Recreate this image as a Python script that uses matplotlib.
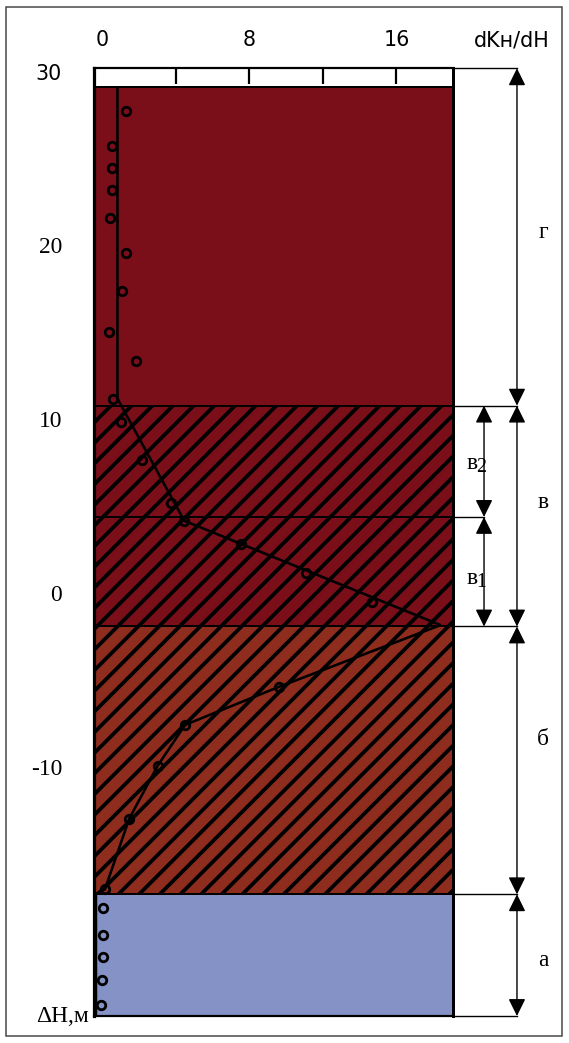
import matplotlib
matplotlib.use("Agg")
import matplotlib.pyplot as plt
from matplotlib.patches import Rectangle, ArrowStyle

# ---------------- data ----------------
layer_names = ["г", "в2", "в1", "б", "а"]
layer_top = [29.2, 10.9, 4.5, -1.8, -17.2]
layer_bottom = [10.9, 4.5, -1.8, -17.2, -24.2]
layer_colors = ["#7A0F1A", "#7A0F1A", "#7A0F1A", "#8E2D1E", "#8592C6"]
layer_hatch = [None, "//", "//", "//", None]

g_x = [1.29, 0.53, 0.53, 0.53, 0.45, 1.29, 1.10, 0.38, 1.83, 0.61]
g_y = [27.86, 25.83, 24.55, 23.30, 21.71, 19.70, 17.49, 15.12, 13.48, 11.27]
v_x = [1.02, 2.16, 3.75, 4.47, 7.54, 11.07, 14.66]
v_y = [9.96, 7.76, 5.28, 4.28, 2.93, 1.28, -0.39]
b_x = [9.64, 4.51, 3.03, 1.48, 0.16]
b_y = [-5.26, -7.46, -9.80, -12.85, -16.91]
a_x = [0.07, 0.07, 0.07, 0.0, -0.05]
a_y = [-18.0, -19.54, -20.79, -22.13, -23.57]

trend_x = [0.84, 0.84, 4.47, 18.4, 9.64, 4.51, 3.03, 1.48, 0.16, -0.33, -0.33]
trend_y = [29.18, 11.3, 4.28, -1.72, -5.26, -7.46, -9.80, -12.85, -16.91, -17.18, -24.2]

x_ticklabels = ["0", "8", "16"]
x_ticks = [0, 8, 16]
ruler_ticks = [4, 8, 12, 16]
y_ticks = [30, 20, 10, 0, -10]
y_ticklabels = ["30", "20", "10", "0", "-10"]

# ---------------- layout ----------------
DPI = 124
W, H = 569, 1043
P = 72.0 / DPI  # points per pixel
plt.rcParams["hatch.linewidth"] = 3.8 * P

fig = plt.figure(figsize=(W / DPI, H / DPI), dpi=DPI)
fig.patch.set_facecolor("white")
AX_L, AX_R, AX_T, AX_B = 93.5, 453.3, 68.3, 1016
ax = fig.add_axes([AX_L / W, 1 - AX_B / H, (AX_R - AX_L) / W, (AX_B - AX_T) / H])
XMIN, XMAX = -0.462, 19.09
YMIN, YMAX = -24.2, 30.3
ax.set_xlim(XMIN, XMAX)
ax.set_ylim(YMIN, YMAX)

SANS = "DejaVu Sans"
SERIF = "Liberation Serif"
sans_size = 20.6 * P
serif_size = 23.5 * P

# layers
for top, bot, col, h in zip(layer_top, layer_bottom, layer_colors, layer_hatch):
    ax.axhspan(bot, top, facecolor=col, edgecolor="black", hatch=h,
               linewidth=2.0 * P, zorder=1)

# trend line and points
ax.plot(trend_x, trend_y, color="black", lw=2.6 * P, zorder=3, solid_joinstyle="miter")
for xs, ys in [(g_x, g_y), (v_x, v_y), (b_x, b_y), (a_x, a_y)]:
    ax.plot(xs, ys, ls="none", marker="o", ms=8.5 * P, mfc="none", mec="black",
            mew=2.8 * P, zorder=4)

# spines
for side, lw in [("left", 3.2), ("right", 3.0), ("top", 2.2), ("bottom", 2.2)]:
    ax.spines[side].set_linewidth(lw * P)
    ax.spines[side].set_zorder(5)

# x axis (top ruler)
ax.xaxis.set_ticks_position("top")
ax.set_xticks(x_ticks)
ax.set_xticklabels(x_ticklabels, fontfamily=SANS, fontsize=sans_size)
ax.tick_params(axis="x", which="major", length=0, pad=18 * P)
ax.vlines(ruler_ticks, YMAX - 16 / 17.39, YMAX, colors="black", lw=2.2 * P, zorder=5)

# y axis labels
ax.set_yticks([])
x_ylab = (62 - AX_L) / (AX_R - AX_L)
for val, txt in zip(y_ticks, y_ticklabels):
    fam = SANS if txt == "30" else SERIF
    size = sans_size if txt == "30" else serif_size
    ax.text(x_ylab, val, txt, transform=ax.get_yaxis_transform(), ha="right",
            va="center", fontfamily=fam, fontsize=size, clip_on=False)

ax.text(-0.71, -24.25, "ΔH,м", ha="right", va="center", fontfamily=SERIF,
        fontsize=serif_size, clip_on=False)
ax.text(22.27, 1 + (AX_T - 40.7) / (AX_B - AX_T), "dKн/dH", transform=ax.get_xaxis_transform(),
        ha="center", va="center", fontfamily=SANS, fontsize=sans_size, clip_on=False)

# right-hand dimension arrows
X_OUT = 22.55
X_IN = 20.76
ext_out = [YMAX, layer_top[1], layer_top[3], layer_top[4], YMIN]
ext_in = [layer_top[2]]
for y in ext_out:
    ax.plot([XMAX, X_OUT], [y, y], color="black", lw=1.4 * P, clip_on=False, zorder=2)
for y in ext_in:
    ax.plot([XMAX, X_IN], [y, y], color="black", lw=1.4 * P, clip_on=False, zorder=2)

style = ArrowStyle("<|-|>", head_length=0.85, head_width=0.42)
def dim_arrow(x, y0, y1):
    ax.annotate("", xy=(x, y0), xytext=(x, y1),
                arrowprops=dict(arrowstyle=style, mutation_scale=10, color="black",
                                lw=1.4 * P, shrinkA=0, shrinkB=0),
                annotation_clip=False)

dim_arrow(X_OUT, YMAX, layer_top[1])          # г
dim_arrow(X_OUT, layer_top[1], layer_top[3])  # в
dim_arrow(X_OUT, layer_top[3], layer_top[4])  # б
dim_arrow(X_OUT, layer_top[4], YMIN)          # а
dim_arrow(X_IN, layer_top[1], layer_top[2])   # в2
dim_arrow(X_IN, layer_top[2], layer_top[3])   # в1

X_LAB = 23.97
for txt, y in [("г", 20.83), ("в", 5.35), ("б", -8.32), ("а", -20.98)]:
    ax.text(X_LAB, y, txt, ha="center", va="center", fontfamily=SERIF,
            fontsize=serif_size, clip_on=False)

for base, sub, y in [("в", "2", 7.6), ("в", "1", 0.98)]:
    ax.text(20.1, y, base, ha="center", va="center", fontfamily=SERIF,
            fontsize=serif_size, clip_on=False)
    ax.text(20.62, y - 0.25, sub, ha="center", va="center", fontfamily=SERIF,
            fontsize=serif_size * 0.85, clip_on=False)

# outer frame
fig.patches.append(Rectangle((6 / W, 1 - 1036 / H), (562 - 6) / W, (1036 - 7) / H,
                             transform=fig.transFigure, fill=False,
                             edgecolor="#444444", lw=1.5 * P))

fig.savefig("out.png", dpi=DPI)
